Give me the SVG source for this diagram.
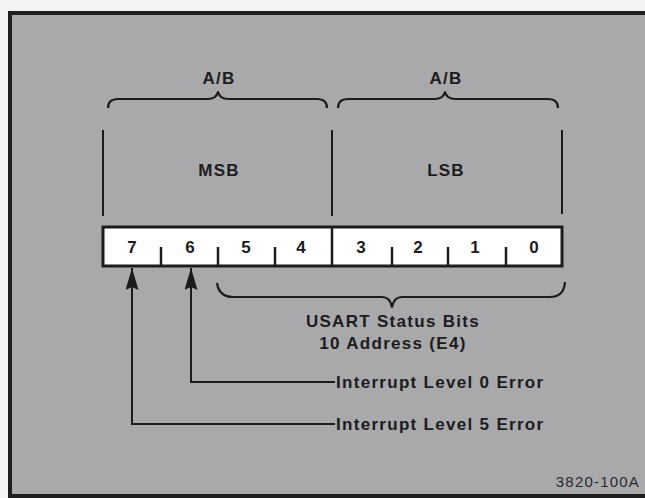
<svg xmlns="http://www.w3.org/2000/svg" width="645" height="498" viewBox="0 0 645 498">
<defs>
<style>
.t{font-family:"Liberation Sans",Arial,sans-serif;font-weight:bold;fill:#1c1c1e;}
.n{font-size:17px;text-anchor:middle;}
.h{font-size:17px;text-anchor:middle;letter-spacing:1.2px;}
.l{font-size:17px;letter-spacing:1.3px;}
.ln{fill:none;stroke:#1c1c1e;stroke-width:2;}
.br{fill:none;stroke:#1c1c1e;stroke-width:2.2;stroke-linejoin:round;}
</style>
<marker id="ah" viewBox="0 0 22 13" refX="22" refY="6.5" markerWidth="22" markerHeight="13" markerUnits="userSpaceOnUse" orient="auto">
<path d="M22,6.5 L0,0 L3,6.5 L0,13 Z" fill="#1c1c1e"/>
</marker>
</defs>
<rect x="0" y="0" width="645" height="498" fill="#f3f3f3"/>
<g id="frame">
<rect x="10" y="13" width="640" height="482" fill="#a9a9ab"/>
<path d="M10,497 L10,13 L645,13" fill="none" stroke="#1e1e1e" stroke-width="4"/>
<line x1="8" y1="496" x2="645" y2="496" stroke="#1e1e1e" stroke-width="4"/>
</g>
<g id="braces-top">
<path class="br" d="M108,108 Q108,99 118,99 L208,99 Q216,99 218,92 Q220,99 228,99 L317,99 Q327,99 327,108"/>
<path class="br" d="M338,108 Q338,99 348,99 L435,99 Q443,99 445,92 Q447,99 455,99 L548,99 Q558,99 558,108"/>
<text class="t h" x="219" y="84">A/B</text>
<text class="t h" x="446" y="84">A/B</text>
</g>
<g id="msb">
<line class="ln" x1="103" y1="130" x2="103" y2="216"/>
<text class="t h" x="219" y="176">MSB</text>
</g>
<g id="lsb">
<line class="ln" x1="332" y1="130" x2="332" y2="216"/>
<line class="ln" x1="562" y1="130" x2="562" y2="214"/>
<text class="t h" x="446" y="176">LSB</text>
</g>
<g id="register">
<rect x="103" y="227" width="459" height="39" fill="#ffffff" stroke="#1c1c1e" stroke-width="3"/>
<line x1="332" y1="227" x2="332" y2="266" stroke="#1c1c1e" stroke-width="2.5"/>
<g stroke="#1c1c1e" stroke-width="2.5">
<line x1="161" y1="247" x2="161" y2="266"/>
<line x1="218" y1="247" x2="218" y2="266"/>
<line x1="275" y1="247" x2="275" y2="266"/>
<line x1="392" y1="247" x2="392" y2="266"/>
<line x1="448" y1="247" x2="448" y2="266"/>
<line x1="506" y1="247" x2="506" y2="266"/>
</g>
<text class="t n" x="132" y="253">7</text>
<text class="t n" x="190" y="253">6</text>
<text class="t n" x="246" y="253">5</text>
<text class="t n" x="301" y="253">4</text>
<text class="t n" x="361" y="253">3</text>
<text class="t n" x="418" y="253">2</text>
<text class="t n" x="475" y="253">1</text>
<text class="t n" x="534" y="253">0</text>
</g>
<g id="usart">
<path class="br" d="M217,283 Q219,297 233,297 L382,297 Q390,297 392,307 Q394,297 402,297 L550,297 Q564,297 565,282"/>
<text class="t l" x="393" y="327" text-anchor="middle">USART Status Bits</text>
<text class="t l" x="393" y="349" text-anchor="middle">10 Address (E4)</text>
</g>
<g id="connectors">
<polyline class="ln" points="335,382 191,382 191,268" marker-end="url(#ah)"/>
<polyline class="ln" points="335,424 132,424 132,268" marker-end="url(#ah)"/>
</g>
<g id="err0">
<text class="t l" x="336" y="388">Interrupt Level 0 Error</text>
</g>
<g id="err5">
<text class="t l" x="336" y="430">Interrupt Level 5 Error</text>
</g>
<text x="640" y="487" text-anchor="end" font-family="'Liberation Sans',Arial,sans-serif" font-size="15" letter-spacing="1.2" fill="#2a2a2c">3820-100A</text>
</svg>
